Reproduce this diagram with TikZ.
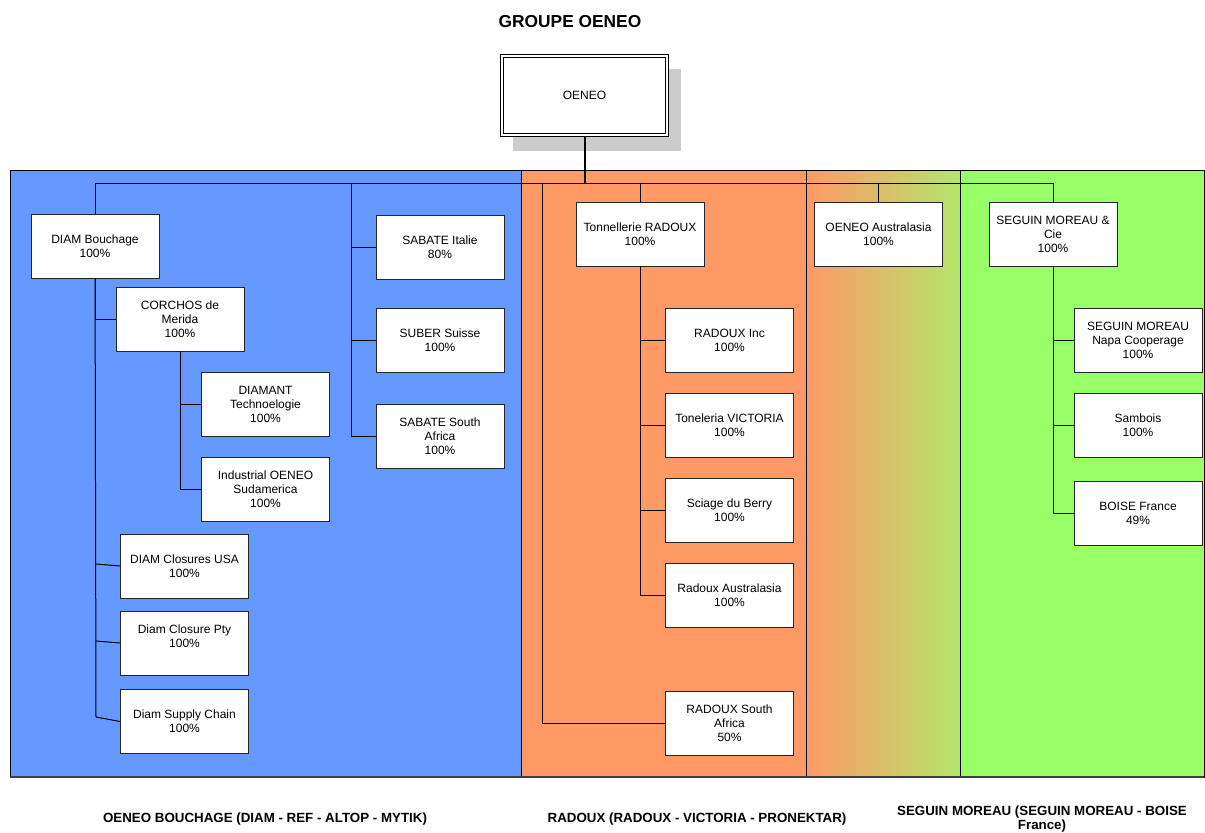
\documentclass[tikz,border=0pt]{standalone}
\usepackage{fontspec}
\setmainfont{Liberation Sans}
\usetikzlibrary{positioning, shadows}
\definecolor{bouchage}{HTML}{6699FF}
\definecolor{radoux}{HTML}{FF9966}
\definecolor{seguin}{HTML}{99FF66}
\definecolor{fadeend}{HTML}{B4E66A}
\tikzset{
  entity/.style={draw=black!85, fill=white, line width=0.6pt, minimum width=96pt,
    minimum height=48pt, align=center, inner sep=1pt, font=\fontsize{9}{10.5}\selectfont},
  hv/.style={to path={-| (\tikztotarget)}},
  vh/.style={to path={|- (\tikztotarget)}},
  zone/.style={font=\bfseries\fontsize{10}{10.5}\selectfont, align=center}
}

\begin{document}
\begin{tikzpicture}[x=0.75pt, y=-0.75pt, line width=0.75pt, node distance=63.75pt]
\useasboundingbox (0,0) rectangle (1205,832);

\fill[bouchage] (10,170) rectangle (521,777);
\fill[radoux] (521,170) rectangle (806,777);
\shade[left color=radoux, right color=fadeend] (806,170) rectangle (960,777);
\fill[seguin] (960,170) rectangle (1204,777);
\draw (10,170) rectangle (1204,777);
\draw (521,170) -- (521,777) (806,170) -- (806,777) (960,170) -- (960,777);
\draw[line width=1.2pt, black!75] (10,777) -- (1204,777);

\node[font=\bfseries\fontsize{13}{15}\selectfont] (title) at (570,22) {GROUPE OENEO};
\node[draw, fill=white, line width=0.9pt, minimum width=126pt, minimum height=61.5pt,
      font=\fontsize{9}{10.5}\selectfont,
      drop shadow={shadow xshift=9pt, shadow yshift=-10.5pt, fill=black!20, opacity=1}]
      (0) at (584.5,95.5) {OENEO};
\draw[line width=0.9pt] ([shift={(3.5,3.5)}]0.north west) rectangle ([shift={(-3.5,-3.5)}]0.south east);

\node[entity] (1) at (95,246.5) {DIAM Bouchage\\100\%};
\node[entity] (2) at (180,319) {CORCHOS de\\Merida\\100\%};
\node[entity] (3) at (265.5,404) {DIAMANT\\Technoelogie\\100\%};
\node[entity] (4) at (265.5,489) {Industrial OENEO\\Sudamerica\\100\%};
\node[entity] (5) at (184.5,566) {DIAM Closures USA\\100\%};
\node[entity] (6) at (184.5,643) {Diam Closure Pty\\100\%\\\mbox{}};
\node[entity] (7) at (184.5,721.5) {Diam Supply Chain\\100\%};
\node[entity] (8) at (440,247) {SABATE Italie\\80\%};
\node[entity] (9) at (440,340.5) {SUBER Suisse\\100\%};
\node[entity] (10) at (440,436) {SABATE South\\Africa\\100\%};
\node[entity] (11) at (640,234) {Tonnellerie RADOUX\\100\%};
\node[entity] (12) at (729.5,340.5) {RADOUX Inc\\100\%};
\node[entity, below of=12] (13) {Toneleria VICTORIA\\100\%};
\node[entity, below of=13] (14) {Sciage du Berry\\100\%};
\node[entity, below of=14] (15) {Radoux Australasia\\100\%};
\node[entity] (16) at (729.5,723.5) {RADOUX South\\Africa\\50\%};
\node[entity] (17) at (878.5,234) {OENEO Australasia\\100\%};
\node[entity] (18) at (1053,234) {SEGUIN MOREAU \&\\Cie\\100\%};
\node[entity] (19) at (1138,340.5) {SEGUIN MOREAU\\Napa Cooperage\\100\%};
\node[entity, below of=19] (20) {Sambois\\100\%};
\node[entity, below of=20, yshift=-2pt] (21) {BOISE France\\49\%};

\node[zone] (z1) at (265,819) {OENEO BOUCHAGE (DIAM - REF - ALTOP - MYTIK)};
\node[zone] (z2) at (697,819) {RADOUX (RADOUX - VICTORIA - PRONEKTAR)};
\node[zone] (z3) at (1042,819) {SEGUIN MOREAU (SEGUIN MOREAU - BOISE\\France)};

\coordinate (bus) at (584.5,183);
\coordinate (sab) at (351,183);
\coordinate (rsa) at (542,183);
\coordinate (d1) at (96,564);
\coordinate (d2) at (96,641);
\coordinate (d3) at (96,717);

\path[line width=1.5pt] (0) edge (bus);
\path
    (bus) edge[hv] (1)
    (bus) edge[hv] (11)
    (bus) edge[hv] (17)
    (bus) edge[hv] (18)
    (sab) edge[vh] (8)
    (sab) edge[vh] (9)
    (sab) edge[vh] (10)
    (rsa) edge[vh] (16)
    (1) edge[vh] (2)
    (1) edge (d3)
    (d1) edge (5.west)
    (d2) edge (6.west)
    (d3) edge (7.west)
    (2) edge[vh] (3)
    (2) edge[vh] (4)
    (11) edge[vh] (12)
    (11) edge[vh] (13)
    (11) edge[vh] (14)
    (11) edge[vh] (15)
    (18) edge[vh] (19)
    (18) edge[vh] (20)
    (18) edge[vh] (21);
\end{tikzpicture}
\end{document}
